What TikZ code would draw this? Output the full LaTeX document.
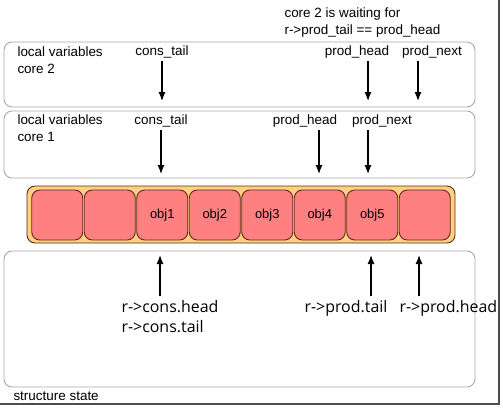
\documentclass[tikz,border=0pt]{standalone}
\usepackage{fontspec}
\setmainfont{Liberation Sans}
\newfontfamily\ptrfont{Open Sans}
\usetikzlibrary{arrows.meta}
\definecolor{cellred}{HTML}{FF8080}
\definecolor{cellline}{HTML}{5C2A1E}
\definecolor{ringfill}{HTML}{FFD080}
\def\drawptr{\draw[-{Latex[length=9bp,width=7bp]}, line width=1.2bp]}
\def\varbox{\node[draw=gray!70, line width=0.9bp, rounded corners=8bp, inner sep=0pt, minimum width=471bp]}
\def\cellnode{\node[draw=cellline, fill=cellred, line width=0.9bp, rounded corners=8bp, inner sep=0pt, minimum width=51bp, minimum height=50bp, font=\fontsize{13}{15}\selectfont]}

\begin{document}
\begin{tikzpicture}[x=1bp,y=-1bp,every node/.style={font=\fontsize{13.5}{17}\selectfont}]
\useasboundingbox (0,0) rectangle (503,407);
% the three frames
\varbox (core2) [minimum height=65bp] at (239.5,74.5) {};
\varbox (core1) [minimum height=67bp] at (239.5,144.5) {};
\varbox (state) [minimum height=136bp] at (239.5,319) {};
\node[anchor=base west, align=left] (lv2) at (14,73) {local variables\\core 2};
\node[anchor=base west, align=left] (lv1) at (14,141) {local variables\\core 1};
\node[anchor=base west] (statelbl) at (10,400) {structure state};
\node[anchor=base west, align=left] (wait) at (281,34) {core 2 is waiting for\\r->prod\_tail == prod\_head};
% ring
\node[draw=cellline, fill=ringfill, line width=0.9bp, rounded corners=8bp, minimum width=428bp, minimum height=57bp] (ring) at (241,214.5) {};
\foreach \i/\t in {1/,2/,3/obj1,4/obj2,5/obj3,6/obj4,7/obj5,8/}
  \cellnode (cell\i) at ({57.25+52.5*(\i-1)},215) {\t};
% core 2
\node[anchor=base] (ct2) at (162,55) {cons\_tail};
\node[anchor=base] (ph2) at (357,55) {prod\_head};
\node[anchor=base] (pn2) at (432,55) {prod\_next};
\coordinate (ct2tip) at (162,101);
\coordinate (ph2tip) at (368,101);
\coordinate (pn2tip) at (418,101);
\drawptr (ct2.south -| ct2tip) -- (ct2tip);
\drawptr (ph2.south -| ph2tip) -- (ph2tip);
\drawptr (pn2.south -| pn2tip) -- (pn2tip);
% core 1
\node[anchor=base] (ct1) at (161,124) {cons\_tail};
\node[anchor=base] (ph1) at (305,124) {prod\_head};
\node[anchor=base] (pn1) at (382,124) {prod\_next};
\coordinate (ct1tip) at (161,174);
\coordinate (ph1tip) at (319,174);
\coordinate (pn1tip) at (368,174);
\drawptr (ct1.south -| ct1tip) -- (ct1tip);
\drawptr (ph1.south -| ph1tip) -- (ph1tip);
\drawptr (pn1.south -| pn1tip) -- (pn1tip);
% structure state
\node[anchor=base west, align=left, font=\ptrfont\fontsize{16}{20}\selectfont] (cons) at (118,332) {r->cons.head\\r->cons.tail};
\node[anchor=base west, font=\ptrfont\fontsize{16}{20}\selectfont] (ptail) at (301,312) {r->prod.tail};
\node[anchor=base west, font=\ptrfont\fontsize{16}{20}\selectfont] (phead) at (396,312) {r->prod.head};
\coordinate (constip) at (160,255);
\coordinate (ptailtip) at (371,255);
\coordinate (pheadtip) at (419,255);
\drawptr (cons.north -| constip) -- (constip);
\drawptr (ptail.north -| ptailtip) -- (ptailtip);
\drawptr (phead.north -| pheadtip) -- (pheadtip);
\draw[line width=2bp, black!70] (499,0) -- (499,404) -- (0,404);
\end{tikzpicture}
\end{document}
